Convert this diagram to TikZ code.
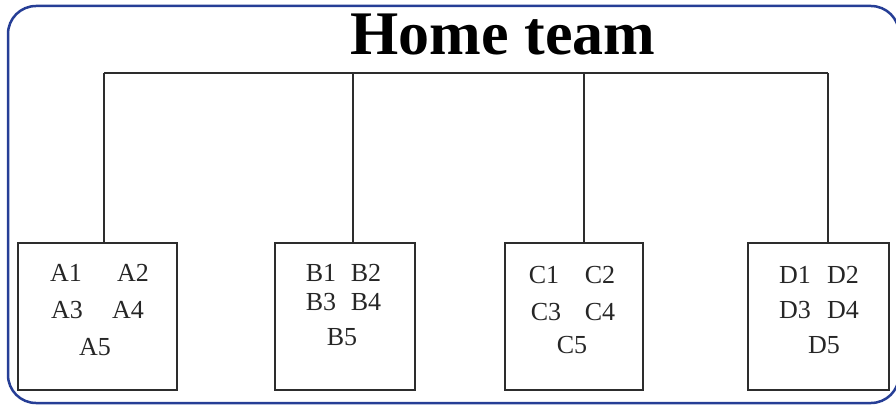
\documentclass[tikz,border=0pt]{standalone}
\usepackage{fontspec}
\setmainfont{Liberation Serif}
\definecolor{framec}{RGB}{38,62,150}
\definecolor{linec}{RGB}{45,45,45}
\tikzset{
  lbl/.style={anchor=base, inner sep=0pt, text=black!85, font=\fontsize{26}{26}\selectfont},
  team/.style={draw=linec, line width=2.2pt, minimum width=0pt},
  conn/.style={draw=linec, line width=2.2pt},
}
\begin{document}
\begin{tikzpicture}[x=1pt,y=-1pt]
\useasboundingbox (0,0) rectangle (896,406);
\draw[framec, line width=2.5pt, rounded corners=28pt] (8,6) rectangle (899,403);
\node[anchor=base, inner sep=0pt, font=\fontsize{62}{62}\selectfont\bfseries] (title) at (503,55) {Home team};
% boxes
\node[team, minimum width=159pt, minimum height=147pt, inner sep=0pt] (A) at (97.5,316.5) {};
\node[team, minimum width=140pt, minimum height=147pt, inner sep=0pt] (B) at (345,316.5) {};
\node[team, minimum width=138pt, minimum height=147pt, inner sep=0pt] (C) at (574,316.5) {};
\node[team, minimum width=141pt, minimum height=147pt, inner sep=0pt] (D) at (818.5,316.5) {};
% tree
\coordinate (hA) at (104,73);
\coordinate (hB) at (353,73);
\coordinate (hC) at (584,73);
\coordinate (hD) at (828,73);
\draw[conn, line width=2.8pt] (hA) -- (hA |- A.north);
\draw[conn] (hA) -- (hD);
\draw[conn] (hB) -- (hB |- B.north);
\draw[conn] (hC) -- (hC |- C.north);
\draw[conn] (hD) -- (hD |- D.north);
% labels
\node[lbl] (a1) at (66,281) {A1};
\node[lbl] (a2) at (133,281) {A2};
\node[lbl] (a3) at (67,318) {A3};
\node[lbl] (a4) at (128,318) {A4};
\node[lbl] (a5) at (95,355) {A5};
\node[lbl] (b1) at (321,281) {B1};
\node[lbl] (b2) at (366,281) {B2};
\node[lbl] (b3) at (321,310) {B3};
\node[lbl] (b4) at (366,310) {B4};
\node[lbl] (b5) at (342,345) {B5};
\node[lbl] (c1) at (544,283) {C1};
\node[lbl] (c2) at (600,283) {C2};
\node[lbl] (c3) at (546,320) {C3};
\node[lbl] (c4) at (600,320) {C4};
\node[lbl] (c5) at (572,353) {C5};
\node[lbl] (d1) at (795,283) {D1};
\node[lbl] (d2) at (843,283) {D2};
\node[lbl] (d3) at (795,318) {D3};
\node[lbl] (d4) at (843,318) {D4};
\node[lbl] (d5) at (824,353) {D5};
\end{tikzpicture}
\end{document}
